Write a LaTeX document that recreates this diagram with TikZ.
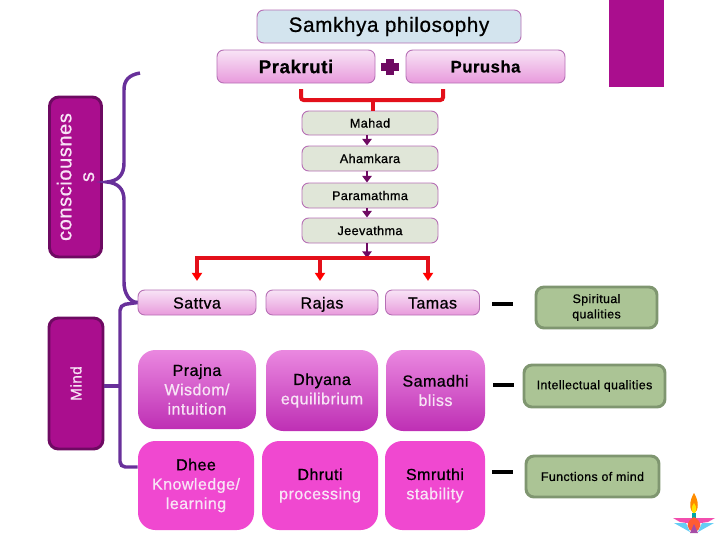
\documentclass[tikz,border=0pt]{standalone}
\usepackage{fontspec}
\setmainfont{Liberation Sans}[FakeBold=0.7,LetterSpace=3]
\usetikzlibrary{arrows.meta}
\definecolor{boxedge}{HTML}{B66FB5}
\definecolor{paleblue}{HTML}{D3E4EE}
\definecolor{palegreen}{HTML}{E0E6D8}
\definecolor{sagegreen}{HTML}{ABC495}
\definecolor{sageedge}{HTML}{7F9670}
\definecolor{deepmagenta}{HTML}{AA0E8E}
\definecolor{darkmagenta}{HTML}{6E0A62}
\definecolor{bracepurple}{HTML}{68309A}
\definecolor{hotpink}{HTML}{F048D0}
\definecolor{palepink}{HTML}{F8E4F6}
\definecolor{softpink}{HTML}{E89ADC}
\definecolor{wisdomtop}{HTML}{EA88E0}
\definecolor{wisdombottom}{HTML}{BE2FB4}
\definecolor{redline}{HTML}{E3101A}
\tikzset{
    size/.style 2 args={minimum width=#1*0.75pt,minimum height=#2*0.75pt,inner sep=0pt},
    plainbox/.style={draw=boxedge,line width=0.7pt,rounded corners=5pt,align=center},
    titlebox/.style={plainbox,fill=paleblue,font=\fontsize{15.5}{17}\selectfont},
    pinkbox/.style={plainbox,top color=palepink,bottom color=softpink,font=\fontsize{12}{14}\selectfont},
    gunabox/.style={pinkbox,text height=11.5pt,text depth=2.5pt},
    stagebox/.style={plainbox,fill=palegreen,font=\fontsize{9.5}{11}\selectfont},
    wisdombox/.style={rounded corners=13pt,top color=wisdomtop,bottom color=wisdombottom,align=center,text=palepink,font=\fontsize{12}{14.5}\selectfont},
    mindfnbox/.style={rounded corners=13pt,fill=hotpink,align=center,text=palepink,font=\fontsize{12}{14.5}\selectfont},
    sidebox/.style={draw=darkmagenta,line width=2.2pt,fill=deepmagenta,rounded corners=7pt,text=palepink,align=center},
    notebox/.style={draw=sageedge,line width=2.2pt,fill=sagegreen,rounded corners=6pt,align=center,font=\fontsize{9.3}{11.5}\selectfont},
    redbar/.style={draw=redline,line width=3pt},
    redarrow/.style={redbar,-{Triangle[length=6pt,width=7.5pt,color=red]},shorten >=6.5pt},
    stagearrow/.style={draw=darkmagenta,line width=2pt,-{Triangle[length=5pt,width=7pt]}},
    purpleline/.style={draw=bracepurple,line width=2.6pt},
    dashbar/.style={draw=black,line width=2.8pt},
}
\newcommand{\dk}[1]{\textcolor{black}{#1}}
\begin{document}
\begin{tikzpicture}[x=0.75pt,y=-0.75pt]
    \useasboundingbox (0,0) rectangle (720,540);
    \fill[deepmagenta] (609,0) rectangle (664,87);
    % top row
    \node[titlebox,size={264}{33}] (title) at (389,26.5) {Samkhya philosophy};
    \node[pinkbox,size={158}{33},font=\fontsize{14}{17}\selectfont\bfseries] (prakruti) at (296,66.5) {Prakruti};
    \node[pinkbox,size={159}{33},font=\fontsize{12.5}{15}\selectfont\bfseries] (purusha) at (485.5,66.5) {Purusha};
    \draw[draw=darkmagenta,line width=5.5pt] (381,67) -- (399,67);
    \draw[draw=darkmagenta,line width=5.5pt] (390,59) -- (390,75);
    % stages
    \node[stagebox,size={136}{24}] (mahad) at (370,123) {Mahad};
    \node[stagebox,size={136}{25}] (ahamkara) at (370,158.5) {Ahamkara};
    \node[stagebox,size={136}{25}] (paramathma) at (370,195.5) {Paramathma};
    \node[stagebox,size={136}{25}] (jeevathma) at (370,230.5) {Jeevathma};
    \coordinate (prakrutidrop) at (301,89);
    \coordinate (purushadrop) at (443,89);
    \coordinate (joinmid) at (373,100);
    \draw[redbar,rounded corners=2pt] (prakrutidrop) |- (joinmid) -| (purushadrop);
    \draw[redbar] (joinmid) -- (joinmid |- mahad.north);
    \coordinate (mahadfoot) at (367,135);
    \draw[stagearrow] (mahadfoot) -- (mahadfoot |- ahamkara.north);
    \draw[stagearrow] (mahadfoot |- ahamkara.south) -- (mahadfoot |- paramathma.north);
    \draw[stagearrow] (mahadfoot |- paramathma.south) -- (mahadfoot |- jeevathma.north);
    \coordinate (gunamid) at (320,258);
    \coordinate (gunaright) at (428,258);
    \coordinate (gunaleft) at (197,258);
    \draw[stagearrow] (mahadfoot |- jeevathma.south) -- (mahadfoot |- gunamid);
    % three gunas
    \node[gunabox,size={118}{25}] (sattva) at (197,302.5) {Sattva};
    \node[gunabox,size={112}{25}] (rajas) at (322,302.5) {Rajas};
    \node[gunabox,size={94}{25}] (tamas) at (432.5,302.5) {Tamas};
    \draw[redbar,line cap=rect] (gunaleft) -- (gunaright);
    \draw[redarrow] (gunaleft) -- (gunaleft |- sattva.north);
    \draw[redarrow] (gunamid) -- (gunamid |- rajas.north);
    \draw[redarrow] (gunaright) -- (gunaright |- tamas.north);
    % qualities
    \node[wisdombox,size={118}{79}] (prajna) at (197,389.5) {\dk{Prajna}\\Wisdom/\\intuition};
    \node[wisdombox,size={112}{81}] (dhyana) at (322,390.5) {\dk{Dhyana}\\equilibrium};
    \node[wisdombox,size={99}{81}] (samadhi) at (435.5,390.5) {\dk{Samadhi}\\bliss};
    \node[mindfnbox,size={116}{89}] (dhee) at (196,485.5) {\dk{Dhee}\\Knowledge/\\learning};
    \node[mindfnbox,size={116}{89}] (dhruti) at (320,485.5) {\dk{Dhruti}\\processing};
    \node[mindfnbox,size={100}{89}] (smruthi) at (435,485.5) {\dk{Smruthi}\\stability};
    % notes on the right
    \node[notebox,size={121}{41}] (spiritual) at (596.5,307.5) {Spiritual\\qualities};
    \node[notebox,size={141}{42}] (intellectual) at (594.5,386) {Intellectual qualities};
    \node[notebox,size={133}{41}] (functions) at (592.5,476.5) {Functions of mind};
    \coordinate (dashonea) at (492,304);
    \coordinate (dashoneb) at (513,304);
    \coordinate (dashtwoa) at (493,385);
    \coordinate (dashtwob) at (514,385);
    \coordinate (dashthreea) at (492,472);
    \coordinate (dashthreeb) at (513,472);
    \draw[dashbar] (dashonea) -- (dashoneb);
    \draw[dashbar] (dashtwoa) -- (dashtwob);
    \draw[dashbar] (dashthreea) -- (dashthreeb);
    % side labels
    \node[sidebox,size={52}{160}] (conscious) at (75.5,177) {};
    \node[rotate=90,text=palepink,align=center,font=\fontsize{15}{17}\selectfont] (consciouslabel) at (conscious.center) {consciousnes\\s};
    \node[sidebox,size={54}{131}] (mind) at (76,383.5) {};
    \node[rotate=90,text=palepink,font=\fontsize{11.5}{13}\selectfont] (mindlabel) at (mind.center) {Mind};
    \coordinate (bracetop) at (140,73);
    \coordinate (bracetip) at (107,182);
    \draw[purpleline] (bracetop) .. controls (129,75) and (124,80) .. (124,90) -- (124,163)
        .. controls (124,175) and (118,181) .. (bracetip) .. controls (118,183) and (124,189) .. (124,200)
        -- (124,282) .. controls (124,293) and (129,302) .. (sattva.west);
    \coordinate (mindbar) at (120,386);
    \draw[purpleline,rounded corners=4pt] (sattva.west) -- (120,305) -- (120,467) -- (dhee.west |- 0,467);
    \draw[purpleline] (mind.east |- mindbar) -- (mindbar);
    % lamp mark
    \fill[orange!90!yellow] (694,493) .. controls (689,501) and (689,510) .. (694,514) .. controls (699,510) and (699,501) .. (694,493);
    \fill[yellow!85!orange] (694,503) .. controls (691,507) and (691,511) .. (694,514) .. controls (697,511) and (697,507) .. (694,503);
    \fill[teal!70!cyan] (692,513) rectangle (696,518);
    \fill[magenta!70!white] (673,518) -- (692,518) -- (694,524) -- (680,522) -- cycle;
    \fill[magenta!70!white] (715,518) -- (696,518) -- (694,524) -- (708,522) -- cycle;
    \fill[cyan!60!white] (674,523) -- (686,523) -- (690,532) -- cycle;
    \fill[cyan!60!white] (714,523) -- (702,523) -- (698,532) -- cycle;
    \fill[red!60!orange!80!white] (694,517) .. controls (685,522) and (686,530) .. (694,532) .. controls (702,530) and (703,522) .. (694,517);
    \fill[violet!70!white] (690,533) -- (694,524) -- (698,533) -- cycle;
\end{tikzpicture}
\end{document}
